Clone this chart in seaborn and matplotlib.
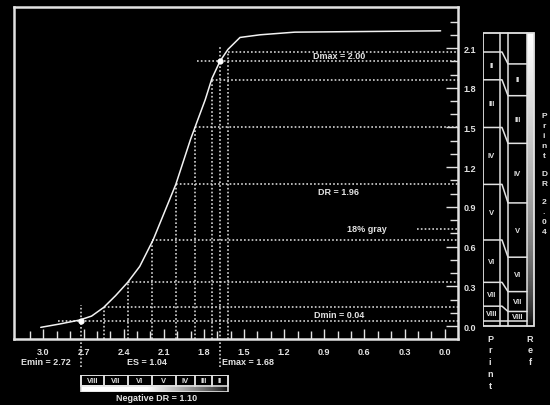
import numpy as np
import matplotlib
matplotlib.use("Agg")
import matplotlib.pyplot as plt
import seaborn as sns
from matplotlib.patches import Rectangle

# ---------------- data ----------------
curve_logE = [3.02, 2.88, 2.73, 2.64, 2.55, 2.46, 2.37, 2.28, 2.18, 2.01, 1.90,
              1.79, 1.74, 1.68, 1.62, 1.53, 1.38, 1.12, 0.03]
curve_D = [-0.01, 0.015, 0.045, 0.075, 0.14, 0.23, 0.33, 0.45, 0.65, 1.07, 1.41,
           1.71, 1.87, 2.00, 2.09, 2.18, 2.20, 2.22, 2.23]
zone_logE = [2.72, 2.55, 2.37, 2.19, 2.01, 1.87, 1.74, 1.62]
zone_D = [0.04, 0.14, 0.33, 0.65, 1.07, 1.50, 1.86, 2.07]
emin, emax = 2.72, 1.68
dmin, dmax = 0.04, 2.00
gray18 = 0.735
print_bounds = [2.21, 2.07, 1.86, 1.50, 1.07, 0.65, 0.33, 0.15, 0.04, 0.0]
ref_bounds = [2.21, 1.98, 1.74, 1.38, 0.93, 0.52, 0.26, 0.11, 0.04, 0.0]
zone_labels = ["", "II", "III", "IV", "V", "VI", "VII", "VIII", ""]
neg_labels = ["VIII", "VII", "VI", "V", "IV", "III", "II"]
x_tick_vals = [3.0, 2.7, 2.4, 2.1, 1.8, 1.5, 1.2, 0.9, 0.6, 0.3, 0.0]
y_tick_vals = [0.0, 0.3, 0.6, 0.9, 1.2, 1.5, 1.8, 2.1]
es_text = "ES = 1.04"
dr_text = "DR = 1.96"
neg_dr_text = "Negative DR = 1.10"
print_dr_text = "Print DR 2.04"

# ---------------- style ----------------
sns.set_theme(style="dark")
plt.rcParams['font.family'] = ['Liberation Sans', 'DejaVu Sans']
FG = '#e2e2e2'
DOT = '#d4d4d4'
FS = 6.5
W, H = 550, 406
XLIM = (3.22, -0.10)
YLIM = (-0.098, 2.41)

fig = plt.figure(figsize=(W / 100, H / 100), dpi=100, facecolor='black')


def px_ax(l, t, r, b):
    a = fig.add_axes([l / W, 1 - b / H, (r - l) / W, (b - t) / H])
    a.set_facecolor('black')
    return a


def ftext(x, y, s, **kw):
    kw.setdefault('color', FG)
    kw.setdefault('fontsize', FS)
    kw.setdefault('fontweight', 'bold')
    kw.setdefault('ha', 'center')
    kw.setdefault('va', 'center')
    fig.text(x / W, 1 - y / H, s, **kw)


# ---------------- main axes ----------------
ax = px_ax(14, 8, 458, 340)
ax.set_xlim(*XLIM)
ax.set_ylim(*YLIM)
ax.grid(False)
for sp in ax.spines.values():
    sp.set_color(FG)
    sp.set_linewidth(1.8)
    sp.set_visible(True)

dot_kw = dict(color=DOT, lw=1.2, ls=(0, (1.0, 1.3)), zorder=2)
xr = XLIM[1]
# zone lines
for e, d in zip(zone_logE[1:], zone_D[1:]):
    ax.plot([e, e], [YLIM[0], d], **dot_kw)
    ax.plot([e, xr], [d, d], **dot_kw)
# Emin/Dmin crosshair
ax.plot([emin, emin], [-0.31, 0.16], clip_on=False, **dot_kw)
ax.plot([2.89, xr], [dmin, dmin], **dot_kw)
# Emax/Dmax crosshair
ax.plot([emax, emax], [-0.31, 2.11], clip_on=False, **dot_kw)
ax.plot([1.85, xr], [dmax, dmax], **dot_kw)
# 18% gray marker
ax.plot([0.21, xr], [gray18, gray18], **dot_kw)

sns.lineplot(x=curve_logE, y=curve_D, ax=ax, color='#f2f2f2', lw=1.1,
             sort=False, estimator=None, zorder=3)
ax.scatter([emin, emax], [dmin, dmax], s=12, color='white', zorder=4)

ax.set_xticks(x_tick_vals)
ax.set_xticks(np.arange(0.0, 3.15, 0.1), minor=True)
ax.set_xticklabels([f"{v:.1f}" for v in x_tick_vals])
ax.set_yticks(y_tick_vals)
ax.set_yticks(np.arange(0.0, 2.35, 0.1), minor=True)
ax.set_yticklabels([f"{v:.1f}" for v in y_tick_vals])
ax.yaxis.tick_right()
ax.tick_params(axis='both', which='both', direction='in', colors=FG,
               labelcolor=FG, labelsize=FS, width=1.0)
ax.tick_params(axis='x', which='major', length=7, pad=6)
ax.tick_params(axis='x', which='minor', length=6)
ax.tick_params(axis='y', which='major', length=9, pad=4)
ax.tick_params(axis='y', which='minor', length=6)
ax.tick_params(axis='x', which='both', top=False, bottom=True)
ax.tick_params(axis='y', which='both', left=False, right=True)
for lab in ax.get_xticklabels() + ax.get_yticklabels():
    lab.set_fontweight('bold')
ax.set_xlabel('')
ax.set_ylabel('')

# annotations inside plot
ax.text(0.79, 2.045, "Dmax = " + f"{dmax:.2f}", color=FG, fontsize=FS,
        fontweight='bold', ha='center', va='center', zorder=5)
ax.text(0.79, 1.015, dr_text, color=FG, fontsize=FS, fontweight='bold',
        ha='center', va='center')
ax.text(0.58, gray18, "18% gray", color=FG, fontsize=FS, fontweight='bold',
        ha='center', va='center')
ax.text(0.79, 0.09, "Dmin = " + f"{dmin:.2f}", color=FG, fontsize=FS,
        fontweight='bold', ha='center', va='center')

# ---------------- right density panel ----------------
axr = px_ax(483, 8, 535, 340)
axr.set_ylim(*YLIM)
axr.set_xlim(483, 535)
axr.axis('off')
line_kw = dict(color=FG, lw=1.1)
top, bot = print_bounds[0], print_bounds[-1]
grad = np.linspace(0, 1, 200).reshape(-1, 1) ** 0.55
axr.imshow(grad, cmap='gray', vmin=0, vmax=1, origin='lower', aspect='auto',
           extent=(527, 534, bot, top), zorder=1)
axr.add_patch(Rectangle((483, bot), 51, top - bot, fill=False, ec=FG, lw=1.3, zorder=3))
for xv in (500, 508, 527):
    axr.plot([xv, xv], [bot, top], **line_kw)
for pb, rb in zip(print_bounds[1:-1], ref_bounds[1:-1]):
    axr.plot([483, 500, 502, 508, 527], [pb, pb, pb, rb, rb], **line_kw)
for i, lab in enumerate(zone_labels):
    if lab:
        axr.text(491.5, (print_bounds[i] + print_bounds[i + 1]) / 2, lab,
                 color=FG, fontsize=5.5, fontweight='bold', ha='center', va='center')
        axr.text(517.5, (ref_bounds[i] + ref_bounds[i + 1]) / 2, lab,
                 color=FG, fontsize=5.5, fontweight='bold', ha='center', va='center')

# vertical stacked "Print DR 2.04"
y = 117
for ch in print_dr_text:
    if ch == ' ':
        y += 8
        continue
    ftext(544, y, ch, fontsize=6)
    y += 10
for i, ch in enumerate("Print"):
    ftext(490, 339 + 12 * i, ch, fontsize=6.5)
for i, ch in enumerate("Ref"):
    ftext(530, 339 + 12 * i, ch, fontsize=6.5)

# ---------------- negative scale ----------------
axn = px_ax(14, 376, 458, 393)
axn.set_xlim(*XLIM)
axn.set_ylim(0, 1)
axn.axis('off')
ngrad = np.linspace(1, 0, 200).reshape(1, -1)
ngrad = np.clip(ngrad * 1.8, 0, 1) ** 0.7
axn.imshow(ngrad, cmap='gray', vmin=0, vmax=1, aspect='auto',
           extent=(zone_logE[0], zone_logE[-1], 0.0, 0.36), zorder=1)
axn.add_patch(Rectangle((zone_logE[-1], 0.0), zone_logE[0] - zone_logE[-1], 1.0,
                        fill=False, ec=FG, lw=1.2, zorder=3))
for i, lab in enumerate(neg_labels):
    a, b = zone_logE[i], zone_logE[i + 1]
    axn.add_patch(Rectangle((b, 0.36), a - b, 0.64, fill=False, ec=FG, lw=1.1, zorder=3))
    axn.text((a + b) / 2, 0.68, lab, color=FG, fontsize=5.5, fontweight='bold',
             ha='center', va='center')

# ---------------- bottom texts ----------------
ftext(46, 363, "Emin = " + f"{emin:.2f}")
ftext(147, 363, es_text)
ftext(248, 363, "Emax = " + f"{emax:.2f}")
ftext(157, 399, neg_dr_text)

fig.savefig("out.png", dpi=100, facecolor='black')
